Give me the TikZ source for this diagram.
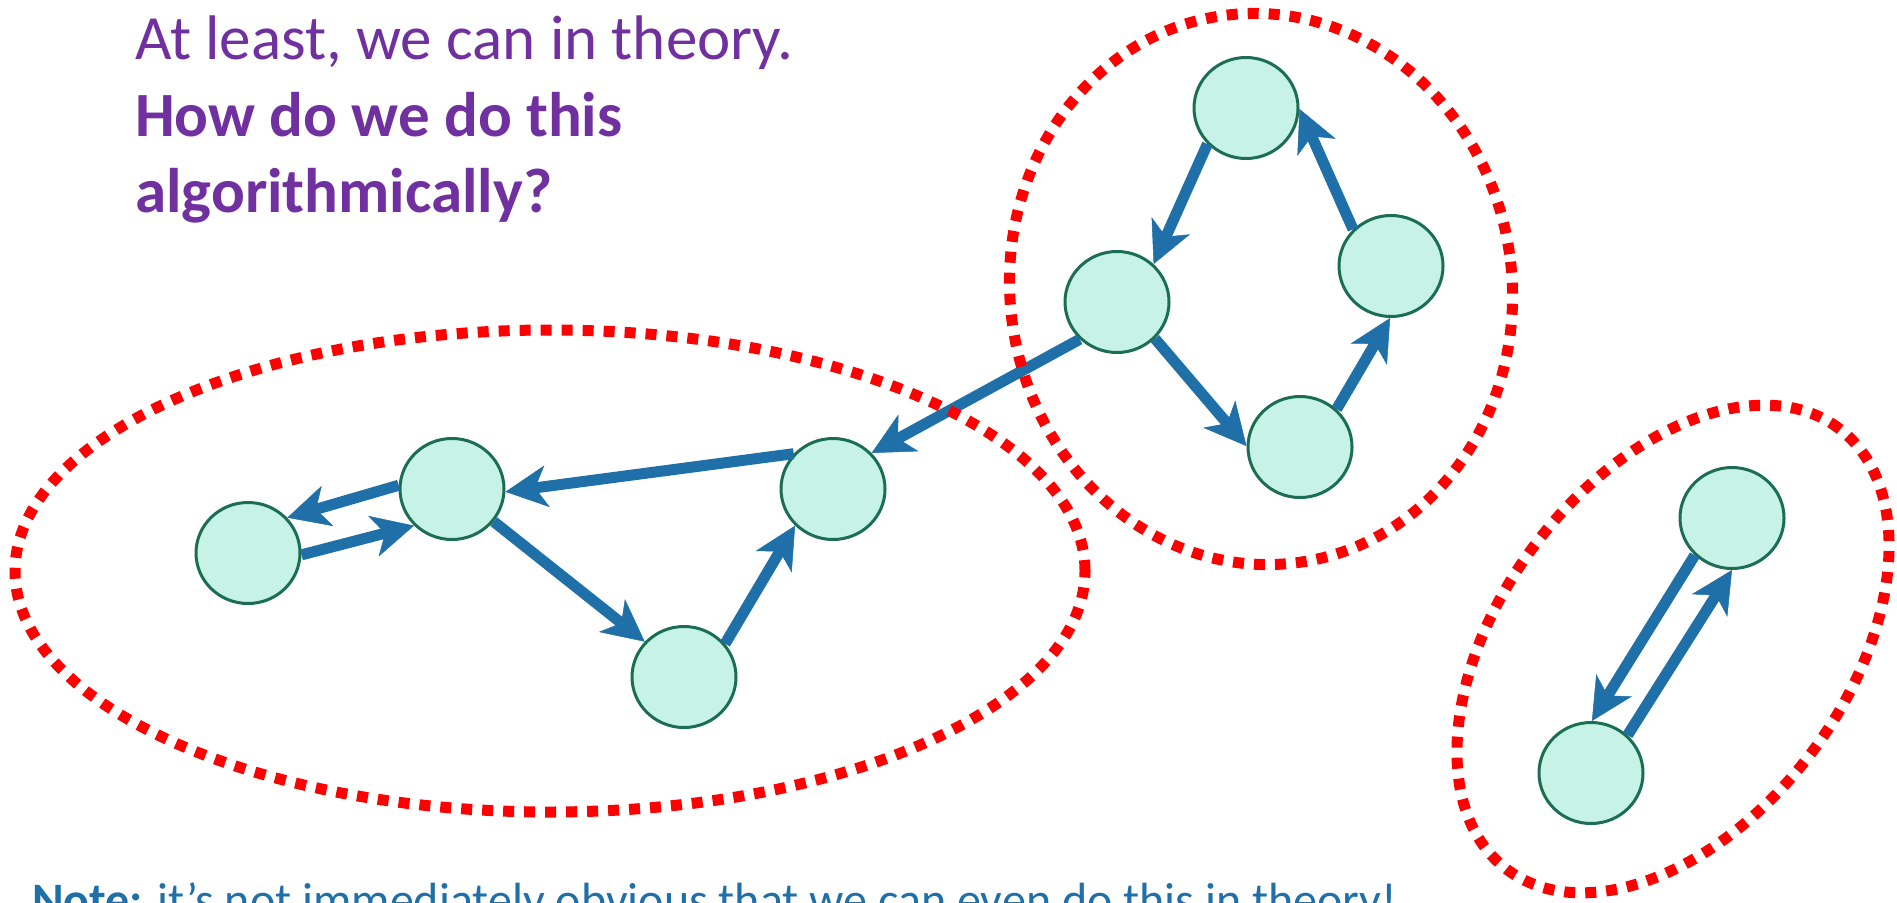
\documentclass[tikz,border=0pt]{standalone}
\usepackage{fontspec}
\setmainfont{Carlito}
\usetikzlibrary{arrows.meta,shapes.geometric}
\definecolor{nodefill}{RGB}{198,243,229}
\definecolor{nodeline}{RGB}{27,110,83}
\definecolor{arrowblue}{RGB}{31,111,168}
\definecolor{dotred}{RGB}{255,0,0}
\definecolor{headpurple}{RGB}{112,48,160}
\begin{document}
\begin{tikzpicture}[x=1pt,y=-1pt,
  vert/.style={ellipse, draw=nodeline, line width=3pt, fill=nodefill, minimum width=104pt, minimum height=101pt, inner sep=0pt},
  edge/.style={draw=arrowblue, line width=11pt, -{Stealth[length=42pt,width=42pt,inset=12pt,line width=0.5pt]}},
  group/.style={draw=dotred, line width=11pt, dash pattern=on 11pt off 10pt},
  headtext/.style={anchor=base west, inner sep=0pt, text=headpurple, font=\fontsize{63}{76}\selectfont},
]
\useasboundingbox (0,0) rectangle (1897,902);
\clip (0,0) rectangle (1897,902);

% heading
\node[headtext] (t1) at (135,59) {At least, we can in theory.};
\node[headtext, font=\fontsize{63}{76}\selectfont\bfseries] (t2) at (135,136) {How do we do this};
\node[headtext, font=\fontsize{63}{76}\selectfont\bfseries] (t3) at (135,212) {algorithmically?};

% note
\node[anchor=base west, inner sep=0pt, text=arrowblue, font=\fontsize{48}{58}\selectfont] (note) at (32,916) {\textbf{Note:} it’s not immediately obvious that we can even do this in theory!};

% vertices
\node[vert] (A) at (248,553) {};
\node[vert] (B) at (452,489) {};
\node[vert] (C) at (684,677) {};
\node[vert] (D) at (833,489) {};
\node[vert] (E) at (1246,108) {};
\node[vert] (F) at (1117,302) {};
\node[vert] (G) at (1391,266) {};
\node[vert] (H) at (1300,447) {};
\node[vert] (I) at (1732,518) {};
\node[vert] (J) at (1591,773) {};

% edges
\draw[edge] (B.176) -- (A.42);
\draw[edge] (A.-2) -- (B.224);
\draw[edge] (D.138) -- (B.-3);
\draw[edge] (B.-38) -- (C.138);
\draw[edge] (C.39) -- (D.224);
\draw[edge] (F.225) -- (D.43);
\draw[edge] (E.223) -- (F.46);
\draw[edge] (G.136) -- (E.-1);
\draw[edge] (F.-44) -- (H.179);
\draw[edge] (H.46) -- (G.269);
\draw[edge] (I.225) -- (J.89);
\draw[edge] (J.46) -- (I.270);

% strongly connected groups
\draw[group] (550,571) ellipse [x radius=535pt, y radius=241pt];
\draw[group, shift={(1261,289)}, rotate=8] (0,0) ellipse [x radius=251pt, y radius=276pt];
\draw[group, shift={(1673,649)}, rotate=53] (0,0) ellipse [x radius=276pt, y radius=173pt];
\end{tikzpicture}
\end{document}
